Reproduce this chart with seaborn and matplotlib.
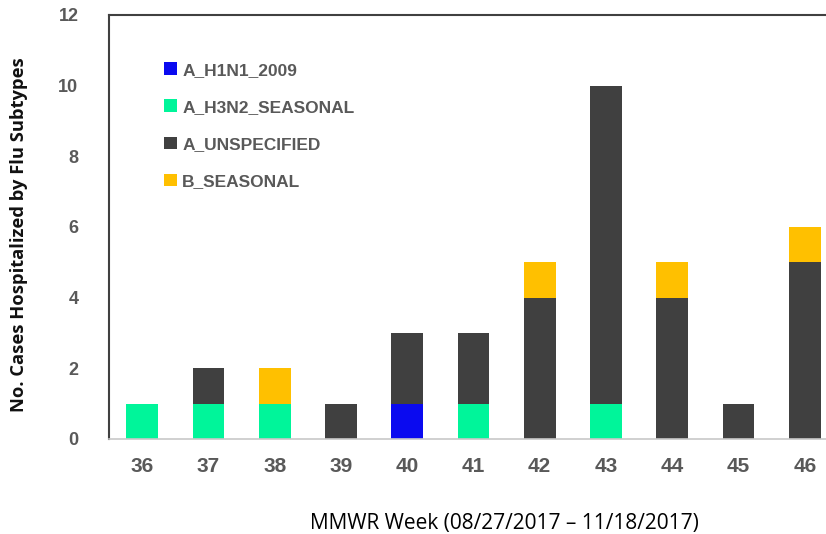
import numpy as np
import pandas as pd
import matplotlib
matplotlib.use('Agg')
import matplotlib.pyplot as plt
from matplotlib.patches import Patch
import seaborn as sns

# data
weeks = ['36', '37', '38', '39', '40', '41', '42', '43', '44', '45', '46']
h1n1 = [0, 0, 0, 0, 1, 0, 0, 0, 0, 0, 0]
h3n2 = [1, 1, 1, 0, 0, 1, 0, 1, 0, 0, 0]
unspecified = [0, 1, 0, 1, 2, 2, 4, 9, 4, 1, 5]
b_seasonal = [0, 0, 1, 0, 0, 0, 1, 0, 1, 0, 1]

series_names = ['A_H1N1_2009', 'A_H3N2_SEASONAL', 'A_UNSPECIFIED', 'B_SEASONAL']
series_colors = ['#0A0AF0', '#00F59A', '#404040', '#FFC000']

df = pd.DataFrame({'week': weeks, 'A_H1N1_2009': h1n1, 'A_H3N2_SEASONAL': h3n2,
                   'A_UNSPECIFIED': unspecified, 'B_SEASONAL': b_seasonal})

sns.set_style('white')
plt.rcParams['font.family'] = ['Liberation Sans', 'DejaVu Sans']

fig = plt.figure(figsize=(8.26, 5.34), dpi=100)
ax = fig.add_axes([0.132, 0.178, 0.868, 0.794])

bottom = np.zeros(len(weeks))
for name, color in zip(series_names, series_colors):
    sns.barplot(data=df, x='week', y=name, order=weeks, color=color, bottom=bottom,
                width=0.48, linewidth=0, saturation=1, ax=ax)
    bottom = bottom + df[name].values

ax.set_xlim(-0.5, 10.32)
ax.set_ylim(0, 12)
ax.set_yticks(range(0, 13, 2))
ax.tick_params(axis='both', length=0)
ax.tick_params(axis='x', labelsize=15, labelcolor='#595959', pad=13)
ax.tick_params(axis='y', labelsize=13, labelcolor='#595959', pad=22)
for lbl in ax.get_xticklabels() + ax.get_yticklabels():
    lbl.set_fontweight('bold')

ax.set_xlabel('MMWR Week (08/27/2017 \u2013 11/18/2017)', fontsize=15,
              family=['Open Sans', 'DejaVu Sans'], color='#000000')
ax.set_ylabel('No. Cases Hospitalized by Flu Subtypes', fontsize=13.2, fontweight='bold',
              family=['Open Sans', 'DejaVu Sans'], color='#111111')
ax.xaxis.set_label_coords(0.552, -0.175)
ax.yaxis.set_label_coords(-0.113, 0.481)

for side in ['top', 'left']:
    ax.spines[side].set_color('#404040')
    ax.spines[side].set_linewidth(1.5)
ax.spines['bottom'].set_color('#C8C8C8')
ax.spines['bottom'].set_linewidth(1.2)
ax.spines['right'].set_visible(False)

handles = [Patch(facecolor=c, edgecolor='none') for c in series_colors]
leg = ax.legend(handles, series_names, loc='upper left', bbox_to_anchor=(0.055, 0.925),
                frameon=False, handlelength=0.75, handleheight=0.75, handletextpad=0.3,
                labelspacing=1.25, prop={'size': 12.5, 'weight': 'bold'})
for t in leg.get_texts():
    t.set_color('#595959')

fig.savefig('out.png', dpi=100)
